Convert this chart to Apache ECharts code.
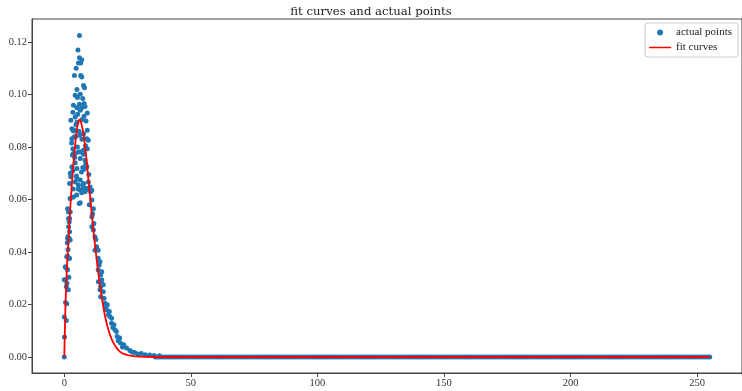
<!DOCTYPE html>
<html>
<head>
<meta charset="utf-8">
<script src="https://cdn.jsdelivr.net/npm/echarts@6/dist/echarts.min.js"></script>
<style>html,body{margin:0;padding:0;background:#fff}#c{width:742px;height:391px}</style>
</head>
<body>
<div id="c"></div>
<script>
const titleText = 'fit curves and actual points';
const xTicks = [0, 50, 100, 150, 200, 250];
const yTicks = [0, 0.02, 0.04, 0.06, 0.08, 0.10, 0.12];

// actual points (x, y)
const ptX = [
  0, 0.1, 0, 0.8, 0.5, 1.0, 0.5, 0.8, 1.6, 1.8, 0.7, 1.3, 1.7,
  1.05, 1.45, 1.95, 1.7, 1.95, 1.7, 2.35, 2.35, 3.6, 4.9, 5.9, 1.2, 1.5,
  6.0, 5.4, 6.0, 6.9, 5.6, 6.5, 4.7, 4.0, 6.5, 6.9, 7.6, 8.0, 5.0,
  4.3, 6.3, 5.2, 7.3, 3.6, 6.0, 7.8, 5.0, 6.9, 8.2,
  3.4, 6.3, 9.1, 4.3, 7.8, 2.6, 5.0, 8.6, 3.0, 3.6, 9.1, 7.6,
  3.0, 3.9, 8.9, 9.5, 3.4, 5.2, 7.6, 9.1, 4.3, 6.3,
  3.6, 5.6, 7.6, 6.3, 8.2, 4.3, 3.0, 5.0, 7.3, 8.9, 3.4,
  2.35, 2.6, 5.0, 6.3, 4.3, 2.1, 5.6, 7.6, 9.5, 10.2, 8.9,
  6.3, 8.2, 10.4, 6.9, 2.35, 6.3, 10.9, 9.9,
  1.3, 1.7, 11.5, 11.2, 10.9, 2.1,
  1.7, 2.1, 11.7, 10.9, 11.5, 1.3, 2.35, 12.1, 12.5,
  12.8, 12.1, 13.4, 1.05, 2.1, 13.4, 14.1, 13.8,
  0.4, 1.3, 13.4, 14.8, 14.4, 0, 1.05, 14.8, 15.4, 14.4,
  3.5, 5.5, 7.6, 8.9, 9.5, 10.9, 4.5, 5.8, 7.0, 8.4, 3.2, 4.8, 6.8, 7.9,
  4.6, 5.3, 6.1, 7.1, 8.5, 3.8, 4.1, 7.4, 2.9, 9.7,
  13.45, 14.8, 14.1, 15.4, 14.4, 15.7, 16.1, 17.0, 16.7, 17.8, 18.0, 18.7,
  18.7, 19.6, 20.0, 20.6, 20.9, 21.9, 22.2, 23.5, 24.6, 25.9, 27.8, 30.4,
  33.7, 37.6, 16.4, 17.4, 19.2, 21.3, 23.0, 26.8, 29.0, 32.0, 35.5
];
const ptY = [
  0, 0.0076, 0.0152, 0.0139, 0.0208, 0.0203, 0.0294, 0.0268, 0.0256, 0.0304, 0.034, 0.0385, 0.0375,
  0.0382, 0.0458, 0.0452, 0.0528, 0.0515, 0.056, 0.0553, 0.0604, 0.061, 0.0617, 0.0585, 0.0435, 0.041,
  0.1225, 0.117, 0.114, 0.1133, 0.112, 0.112, 0.110, 0.1073, 0.1073, 0.1067, 0.1035, 0.1026, 0.1019,
  0.0997, 0.1001, 0.0989, 0.0985, 0.0959, 0.0963, 0.0966, 0.095, 0.095, 0.0955,
  0.0933, 0.094, 0.093, 0.0915, 0.0917, 0.0902, 0.0895, 0.0899, 0.087, 0.0861, 0.0864, 0.0851,
  0.0832, 0.0838, 0.0832, 0.0826, 0.0794, 0.080, 0.0788, 0.0794, 0.0775, 0.0781,
  0.0775, 0.0781, 0.0773, 0.0756, 0.075, 0.074, 0.0725, 0.0718, 0.0722, 0.0725, 0.071,
  0.070, 0.0687, 0.068, 0.0674, 0.0667, 0.0661, 0.0655, 0.0661, 0.0667, 0.0648, 0.0642,
  0.0636, 0.063, 0.063, 0.0626, 0.0604, 0.0588, 0.0598, 0.058,
  0.0565, 0.0553, 0.0565, 0.0546, 0.0534, 0.0528,
  0.0496, 0.0477, 0.0509, 0.0496, 0.0484, 0.0452, 0.0446, 0.0458, 0.0448,
  0.042, 0.0407, 0.0407, 0.0382, 0.0376, 0.0376, 0.0363, 0.0351,
  0.0344, 0.0332, 0.0332, 0.0325, 0.0313, 0.0294, 0.0281, 0.0294, 0.0275, 0.0269,
  0.064, 0.064, 0.0645, 0.0638, 0.0642, 0.0635, 0.084, 0.086, 0.083, 0.0805, 0.077, 0.069, 0.0705, 0.0715,
  0.0885, 0.0925, 0.0845, 0.0905, 0.0735, 0.0865, 0.076, 0.0655, 0.0815, 0.0695,
  0.0287, 0.0281, 0.0256, 0.0249, 0.023, 0.0224, 0.0205, 0.0199, 0.018, 0.0173, 0.0154, 0.0148,
  0.0129, 0.0123, 0.0104, 0.0097, 0.0078, 0.0072, 0.0053, 0.0047, 0.0034, 0.0025, 0.0017, 0.0013,
  0.0008, 0.0005, 0.0188, 0.0162, 0.0112, 0.0062, 0.0038, 0.0019, 0.0011, 0.0009, 0.0006
];
// zero-valued points along the tail
const zeroX = [
  36, 37, 38, 39, 40, 41, 42, 43, 44, 45, 46, 47, 48, 49, 50, 51, 52, 53, 54, 55, 56, 57, 58, 59,
  60, 61, 62, 63, 64, 65, 66, 67, 68, 69, 70, 71, 72, 73, 74, 75, 76, 77, 78, 79, 80, 81, 82, 83,
  84, 85, 86, 87, 88, 89, 90, 91, 92, 93, 94, 95, 96, 97, 98, 99, 100, 101, 102, 103, 104, 105,
  106, 107, 108, 109, 110, 111, 112, 113, 114, 115, 116, 117, 118, 119, 120, 121, 122, 123, 124,
  125, 126, 127, 128, 129, 130, 131, 132, 133, 134, 135, 136, 137, 138, 139, 140, 141, 142, 143,
  144, 145, 146, 147, 148, 149, 150, 151, 152, 153, 154, 155, 156, 157, 158, 159, 160, 161, 162,
  163, 164, 165, 166, 167, 168, 169, 170, 171, 172, 173, 174, 175, 176, 177, 178, 179, 180, 181,
  182, 183, 184, 185, 186, 187, 188, 189, 190, 191, 192, 193, 194, 195, 196, 197, 198, 199, 200,
  201, 202, 203, 204, 205, 206, 207, 208, 209, 210, 211, 212, 213, 214, 215, 216, 217, 218, 219,
  220, 221, 222, 223, 224, 225, 226, 227, 228, 229, 230, 231, 232, 233, 234, 235, 236, 237, 238,
  239, 240, 241, 242, 243, 244, 245, 246, 247, 248, 249, 250, 251, 252, 253, 254, 255
];

// fitted curve
const fitX = [0, 0.5, 1, 1.5, 2, 2.5, 3, 3.5, 4, 4.5, 5, 5.5, 6, 6.5, 7, 7.5, 8, 8.5, 9, 9.5, 10,
  11, 12, 13, 14, 15, 16, 17, 18, 19, 20, 21, 22, 23, 25, 28, 32, 36, 255];
const fitY = [0, 0.021, 0.033, 0.042, 0.051, 0.059, 0.066, 0.072, 0.078, 0.083, 0.087, 0.0895, 0.0906,
  0.0898, 0.088, 0.0855, 0.082, 0.078, 0.073, 0.068, 0.063,
  0.053, 0.044, 0.0355, 0.028, 0.0215, 0.016, 0.0118, 0.0086, 0.0062, 0.0044, 0.003, 0.002, 0.0014,
  0.0007, 0.0002, 0.00005, 0, 0];

const pts = ptX.map((x, i) => [x, ptY[i]]).concat(zeroX.map(x => [x, 0]));
const fit = fitX.map((x, i) => [x, fitY[i]]);

const font = '"Liberation Serif", "DejaVu Serif", serif';
const chart = echarts.init(document.getElementById('c'));
chart.setOption({
  animation: false,
  backgroundColor: '#fff',
  title: {
    text: titleText, left: 'center', top: 1,
    textStyle: { fontFamily: '"DejaVu Serif", serif', fontSize: 11.7, fontWeight: 'normal', color: '#222' }
  },
  legend: {
    orient: 'vertical', right: 4, top: 23,
    borderColor: '#ccc', borderWidth: 1, borderRadius: 3,
    padding: [4, 6, 4, 4], itemGap: 4, itemWidth: 22, itemHeight: 6,
    textStyle: { fontFamily: font, fontSize: 11, color: '#222' },
    data: [
      { name: 'actual points', icon: 'circle', itemStyle: { color: '#1f77b4', opacity: 1 } },
      { name: 'fit curves', icon: 'path://M0,0h0v6h0z M0,2.2h22v1.6h-22z', itemStyle: { color: '#ff0000' } }
    ]
  },
  grid: { left: 32, top: 19, width: 715, height: 354, show: true, borderColor: '#444', borderWidth: 1 },
  xAxis: {
    type: 'value', min: -12.75, max: 267.75,
    axisLine: { show: true, onZero: false, lineStyle: { color: '#444' } },
    axisTick: { show: true, inside: false, length: 4, customValues: xTicks, lineStyle: { color: '#444' } },
    axisLabel: { customValues: xTicks, fontFamily: font, fontSize: 10.5, color: '#333', margin: 5 },
    splitLine: { show: false }
  },
  yAxis: {
    type: 'value', min: -0.0061, max: 0.1288,
    axisLine: { show: true, onZero: false, lineStyle: { color: '#444' } },
    axisTick: { show: true, inside: false, length: 4, customValues: yTicks, lineStyle: { color: '#444' } },
    axisLabel: { customValues: yTicks, fontFamily: font, fontSize: 10.5, color: '#333', margin: 5,
      formatter: v => v.toFixed(2) },
    splitLine: { show: false }
  },
  series: [
    {
      name: 'actual points', type: 'scatter', data: pts, symbolSize: 5,
      itemStyle: { color: '#1f77b4', opacity: 1 }
    },
    {
      name: 'fit curves', type: 'line', data: fit, showSymbol: false, symbol: 'none',
      lineStyle: { color: '#ff0000', width: 1.8 }, itemStyle: { color: '#ff0000' }
    }
  ]
});
</script>
</body>
</html>
